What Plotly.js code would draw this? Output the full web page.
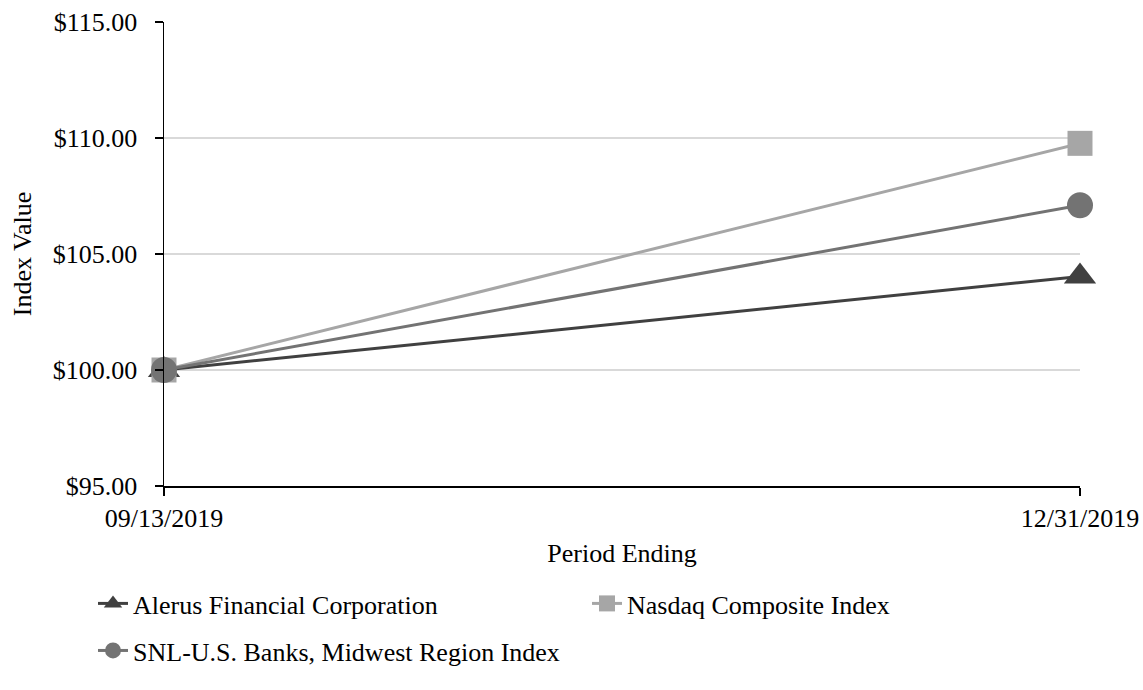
<!DOCTYPE html>
<html>
<head>
<meta charset="utf-8">
<script src="https://cdn.plot.ly/plotly-3.0.1.min.js"></script>
<style>html,body{margin:0;padding:0;background:#fff;}#chart{width:1143px;height:690px;}</style>
</head>
<body>
<div id="chart"></div>
<script>
const periods = ["09/13/2019", "12/31/2019"];
const seriesNames = ["Alerus Financial Corporation", "Nasdaq Composite Index", "SNL-U.S. Banks, Midwest Region Index"];
const alerus = [100.00, 104.03];
const nasdaq = [100.00, 109.77];
const snlMidwest = [100.00, 107.10];
const yTicks = [95, 100, 105, 110, 115];
const yTickLabels = yTicks.map(v => '$' + v.toFixed(2));

const FONT = '"Liberation Serif", "Times New Roman", serif';

const traces = [
  {x: periods, y: alerus, name: seriesNames[0], type: 'scatter', mode: 'lines+markers', cliponaxis: false, legend: 'legend',
   line: {color: '#404040', width: 3}, marker: {symbol: 'triangle-up', size: 28, color: '#404040'}},
  {x: periods, y: nasdaq, name: seriesNames[1], type: 'scatter', mode: 'lines+markers', cliponaxis: false, legend: 'legend',
   line: {color: '#a6a6a6', width: 3}, marker: {symbol: 'square', size: 25, color: '#a6a6a6'}},
  {x: periods, y: snlMidwest, name: seriesNames[2], type: 'scatter', mode: 'lines+markers', cliponaxis: false, legend: 'legend2',
   line: {color: '#737373', width: 3}, marker: {symbol: 'circle', size: 26, color: '#737373'}}
];

const legendBase = {
  orientation: 'h', x: -0.0775, xanchor: 'left', yanchor: 'top',
  entrywidth: 449, entrywidthmode: 'pixels',
  font: {family: FONT, size: 26, color: '#000'},
  traceorder: 'normal', bgcolor: 'rgba(0,0,0,0)', borderwidth: 0
};

const layout = {
  width: 1143, height: 690,
  paper_bgcolor: '#fff', plot_bgcolor: '#fff',
  margin: {l: 164, r: 63, t: 22, b: 204},
  font: {family: FONT, size: 26, color: '#000'},
  showlegend: true,
  xaxis: {
    type: 'category', range: [0, 1],
    showline: true, linecolor: '#000', linewidth: 1.5,
    showgrid: true, gridcolor: '#d9d9d9', gridwidth: 1.5,
    ticks: 'outside', ticklen: 8, tickwidth: 1.5, tickcolor: '#000',
    tickfont: {family: FONT, size: 26, color: '#000'},
    title: {text: 'Period Ending', font: {family: FONT, size: 26, color: '#000'}, standoff: 12},
    zeroline: false, fixedrange: true
  },
  yaxis: {
    range: [95, 115], tickmode: 'array', tickvals: yTicks, ticktext: yTickLabels,
    showline: true, linecolor: '#000', linewidth: 1.5,
    showgrid: true, gridcolor: '#d9d9d9', gridwidth: 1.5,
    ticks: 'outside', ticklen: 8, tickwidth: 1.5, tickcolor: '#000',
    ticklabelstandoff: 12,
    tickfont: {family: FONT, size: 26, color: '#000'},
    title: {text: 'Index Value', font: {family: FONT, size: 26, color: '#000'}, standoff: 13},
    zeroline: false, fixedrange: true
  },
  legend: Object.assign({}, legendBase, {y: -0.2026}),
  legend2: Object.assign({}, legendBase, {y: -0.304})
};

Plotly.newPlot('chart', traces, layout, {displayModeBar: false, staticPlot: true});
</script>
</body>
</html>
